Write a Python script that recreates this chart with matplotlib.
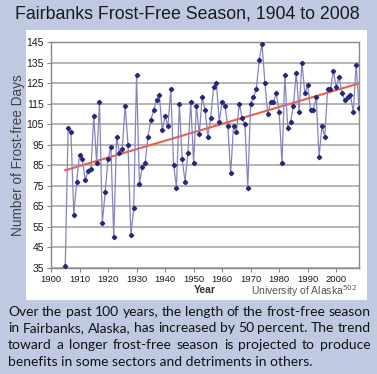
import numpy as np
import matplotlib
matplotlib.use("Agg")
import matplotlib.pyplot as plt
from matplotlib.patches import Rectangle

# --- data ---
years = list(range(1905, 2009))
frost_free_days = [
    36, 103, 101, 61, 77, 90, 88, 78, 82, 83,        # 1905-1914
    109, 86, 116, 57, 72, 88, 94, 50, 99, 91,        # 1915-1924
    93, 114, 95, 51, 64, 129, 76, 84, 86, 99,        # 1925-1934
    107, 112, 117, 119, 102, 109, 104, 122, 85, 74,  # 1935-1944
    115, 88, 77, 91, 116, 86, 114, 100, 118, 112,    # 1945-1954
    99, 108, 123, 125, 106, 116, 114, 104, 81, 104,  # 1955-1964
    101, 115, 108, 105, 74, 115, 118, 122, 136, 144, # 1965-1974
    125, 110, 116, 116, 120, 111, 86, 129, 103, 106, # 1975-1984
    114, 130, 111, 135, 120, 124, 112, 112, 118, 89, # 1985-1994
    104, 99, 122, 122, 131, 123, 128, 120, 117, 118, # 1995-2004
    119, 111, 134, 113,                              # 2005-2008
]
y_ticks = list(range(35, 146, 10))
x_ticks = list(range(1900, 2001, 10))

title = "Fairbanks Frost-Free Season, 1904 to 2008"
caption = [
    "Over the past 100 years, the length of the frost-free season",
    "in Fairbanks, Alaska, has increased by 50 percent. The trend",
    "toward a longer frost-free season is projected to produce",
    "benefits in some sectors and detriments in others.",
]

W, H = 377, 374
fig = plt.figure(figsize=(W / 100, H / 100), dpi=100)
fig.patch.set_facecolor("#bfcae2")

# white panel behind the chart
fig.patches.append(Rectangle((26 / W, 1 - 300 / H), 341 / W, 270 / H,
                             transform=fig.transFigure, facecolor="white",
                             edgecolor="none", zorder=-5))

fig.text(187 / W, 1 - 14 / H, title, ha="center", va="center",
         fontsize=12.8, family="Liberation Sans", color="#1a1a1a")

ax = fig.add_axes([51 / W, 1 - 268 / H, 308 / W, 226 / H])
ax.set_facecolor("white")

# trend line (least squares)
coef = np.polyfit(years, frost_free_days, 1)
trend_x = np.array([years[0], years[-1]])
ax.plot(trend_x, np.polyval(coef, trend_x), color="#f0603c", lw=1.5, zorder=3)

ax.plot(years, frost_free_days, color="#8585bd", lw=0.9, zorder=4)
ax.plot(years, frost_free_days, ls="none", marker="D", ms=2.2,
        color="#25287a", zorder=5)

ax.set_xlim(1900, 2008)
ax.set_ylim(35, 145)
ax.set_yticks(y_ticks)
ax.set_xticks(x_ticks)
ax.grid(axis="y", color="#a8a8a8", lw=1.2)
ax.set_axisbelow(True)
for s in ax.spines.values():
    s.set_color("#888888")
    s.set_linewidth(1.0)
ax.tick_params(axis="both", colors="#888888", length=3, width=0.8,
               labelcolor="#1a1a1a")
ax.tick_params(axis="y", labelsize=7.5, pad=2)
ax.tick_params(axis="x", labelsize=6.8, pad=2)
for lab in ax.get_xticklabels() + ax.get_yticklabels():
    lab.set_family("Liberation Sans")

ax.set_ylabel("Number of Frost-free Days", fontsize=9.8,
              family="Liberation Sans", color="#444444", labelpad=1)
fig.text(205 / W, 1 - 290 / H, "Year", ha="center", va="center",
         fontsize=7.5, family="Liberation Sans", color="#333333",
         fontweight="bold")
fig.text(357 / W, 1 - 291 / H, r"University of Alaska$^{502}$", ha="right",
         va="center", fontsize=7.5, family="Liberation Sans", color="#555555")

# justified caption below the panel
renderer = fig.canvas.get_renderer()
cap_kw = dict(fontsize=10, family="Lato", color="#111111", va="baseline")
left_px, right_px = 8, 371
baselines = [316, 332.5, 349, 365.5]


def word_width(w):
    t = fig.text(0, 0, w, **cap_kw)
    width = t.get_window_extent(renderer).width
    t.remove()
    return width


for i, line in enumerate(caption):
    y = 1 - baselines[i] / H
    if i == len(caption) - 1:
        fig.text(left_px / W, y, line, ha="left", **cap_kw)
        continue
    words = line.split()
    widths = [word_width(w) for w in words]
    gap = (right_px - left_px - sum(widths)) / (len(words) - 1)
    x = left_px
    for w, wd in zip(words, widths):
        fig.text(x / W, y, w, ha="left", **cap_kw)
        x += wd + gap

fig.savefig("out.png", dpi=100, facecolor=fig.get_facecolor())
